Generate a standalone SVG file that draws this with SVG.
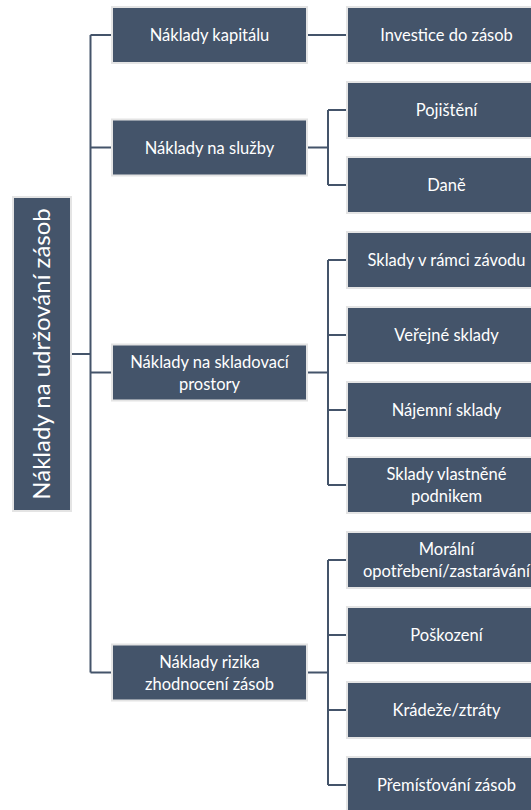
<svg xmlns="http://www.w3.org/2000/svg" width="531" height="810" viewBox="0 0 531 810">
<style>
.box{fill:#44546A;stroke:#E4E4E4;stroke-width:2}
.t{fill:#FFFFFF;font-family:Lato,"Liberation Sans",sans-serif;font-size:16.5px;text-anchor:middle}
.root{fill:#FFFFFF;font-family:Lato,"Liberation Sans",sans-serif;font-size:24px;text-anchor:middle}
.c{stroke:#44546A;stroke-width:2;fill:none}
</style>
<rect width="531" height="810" fill="#FFFFFF"/>
<g id="connectors">
<path class="c" d="M71,354 H90.5 M90.5,35 V672.5 M90.5,35 H112 M90.5,147.5 H112 M90.5,372.5 H112 M90.5,672.5 H112"/>
<path class="c" d="M307,35 H347"/>
<path class="c" d="M307,147.5 H328 M328,110 V185 M328,110 H347 M328,185 H347"/>
<path class="c" d="M307,372.5 H328 M328,260 V485 M328,260 H347 M328,335 H347 M328,410 H347 M328,485 H347"/>
<path class="c" d="M307,672.5 H328 M328,560 V785 M328,560 H347 M328,635 H347 M328,710 H347 M328,785 H347"/>
</g>
<g id="root">
<rect class="box" x="13" y="197" width="58" height="314"/>
<text class="root" transform="translate(42,354) rotate(-90)" y="8">Náklady na udržování zásob</text>
</g>
<g id="n-kapital">
<rect class="box" x="112" y="7" width="195" height="56"/>
<text class="t" x="209.5" y="41">Náklady kapitálu</text>
</g>
<g id="n-sluzby">
<rect class="box" x="112" y="119.5" width="195" height="56"/>
<text class="t" x="209.5" y="153.5">Náklady na služby</text>
</g>
<g id="n-sklad">
<rect class="box" x="112" y="344.5" width="195" height="56"/>
<text class="t" x="209.5" y="367.5">Náklady na skladovací</text>
<text class="t" x="209.5" y="389.5">prostory</text>
</g>
<g id="n-riziko">
<rect class="box" x="112" y="644.5" width="195" height="56"/>
<text class="t" x="209.5" y="667.5">Náklady rizika</text>
<text class="t" x="209.5" y="689.5">zhodnocení  zásob</text>
</g>
<g id="l-investice">
<rect class="box" x="347" y="7" width="199" height="56"/>
<text class="t" x="446.5" y="41">Investice do zásob</text>
</g>
<g id="l-pojisteni">
<rect class="box" x="347" y="82" width="199" height="56"/>
<text class="t" x="446.5" y="116">Pojištění</text>
</g>
<g id="l-dane">
<rect class="box" x="347" y="157" width="199" height="56"/>
<text class="t" x="446.5" y="191">Daně</text>
</g>
<g id="l-sklady-zavod">
<rect class="box" x="347" y="232" width="199" height="56"/>
<text class="t" x="446.5" y="266">Sklady v rámci závodu</text>
</g>
<g id="l-verejne">
<rect class="box" x="347" y="307" width="199" height="56"/>
<text class="t" x="446.5" y="341">Veřejné sklady</text>
</g>
<g id="l-najemni">
<rect class="box" x="347" y="382" width="199" height="56"/>
<text class="t" x="446.5" y="416">Nájemní sklady</text>
</g>
<g id="l-vlastnene">
<rect class="box" x="347" y="457" width="199" height="56"/>
<text class="t" x="446.5" y="480">Sklady vlastněné</text>
<text class="t" x="446.5" y="502">podnikem</text>
</g>
<g id="l-moralni">
<rect class="box" x="347" y="532" width="199" height="56"/>
<text class="t" x="446.5" y="555">Morální</text>
<text class="t" x="446.5" y="577">opotřebení/zastarávání</text>
</g>
<g id="l-poskozeni">
<rect class="box" x="347" y="607" width="199" height="56"/>
<text class="t" x="446.5" y="641">Poškození</text>
</g>
<g id="l-kradeze">
<rect class="box" x="347" y="682" width="199" height="56"/>
<text class="t" x="446.5" y="716">Krádeže/ztráty</text>
</g>
<g id="l-premistovani">
<rect class="box" x="347" y="757" width="199" height="56"/>
<text class="t" x="446.5" y="791">Přemísťování zásob</text>
</g>
</svg>
